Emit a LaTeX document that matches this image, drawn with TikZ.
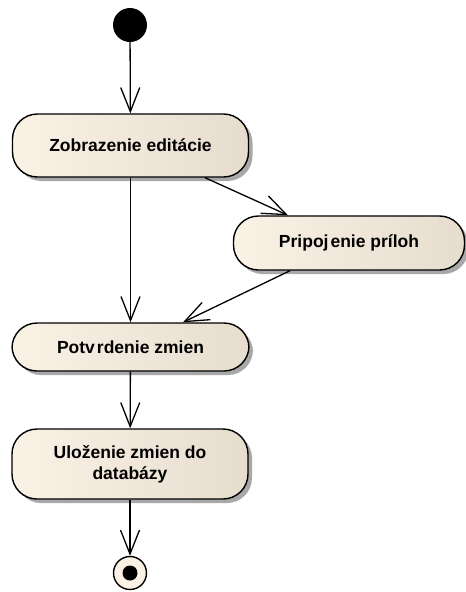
\documentclass[tikz,border=0pt]{standalone}
\usepackage{fontspec}
\setmainfont{Liberation Sans}
\usetikzlibrary{arrows.meta,shadows}
\definecolor{actleft}{HTML}{FAF2E5}
\definecolor{actright}{HTML}{E6DDCF}
\definecolor{shadowgray}{HTML}{A8A8A8}
\tikzset{
  action/.style={draw=black, line width=1.4pt, rounded corners=25pt,
    left color=actleft, right color=actright,
    font=\bfseries\fontsize{17.5}{21}\selectfont, align=center, inner sep=0pt,
    drop shadow={shadow xshift=4pt, shadow yshift=-4pt, fill=shadowgray, opacity=1}},
  flow/.style={line width=1.3pt, -{Straight Barb[length=24pt,width=19pt,line width=1.3pt]}},
}
\begin{document}
\begin{tikzpicture}[x=1pt,y=-1pt]
\useasboundingbox (0,0) rectangle (466,592);
% initial node
\node (start) [circle, fill=black, minimum size=34pt, inner sep=0pt] at (130,25) {};
% actions
\node (zobr) [action, minimum width=236pt, minimum height=63pt] at (130.5,145.5) {Zobrazenie editácie};
\node (prip) [action, minimum width=231pt, minimum height=54pt] at (349,243) {Pripoj\hspace{2pt}enie príloh};
\node (potv) [action, minimum width=237pt, minimum height=48pt] at (130.5,347) {Potv\hspace{2pt}rdenie zmien};
\node (ulož) [action, minimum width=236pt, minimum height=70pt] at (130,464) {Uloženie zmien do\\databázy};
% final node
\node (end) [circle, draw=black, line width=1.4pt, fill=actleft, minimum size=33pt, inner sep=0pt] at (130,573) {};
\node (enddot) [circle, fill=black, minimum size=15pt, inner sep=0pt] at (end.center) {};
% control flows
\draw[flow] (start) -- (zobr);
\draw[flow] (zobr.south) -- (potv.north);
\draw[flow] (zobr.south -| 205,0) -- (prip.north -| 288,0);
\draw[flow] (prip.south -| 290,0) -- (potv.north -| 183,0);
\draw[flow] (potv) -- (ulož);
\draw[flow] (ulož) -- (end);
\end{tikzpicture}
\end{document}
